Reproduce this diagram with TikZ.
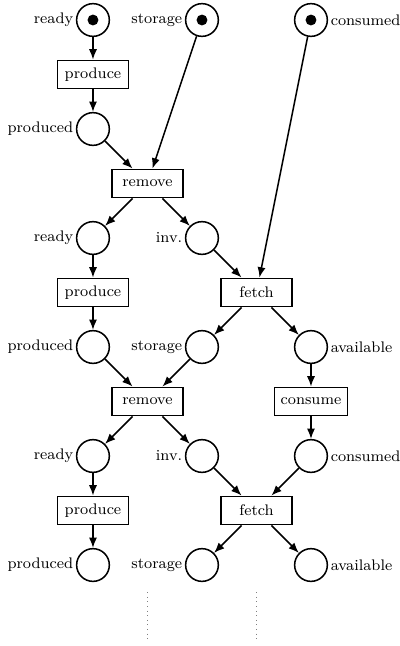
\documentclass[tikz,border=0pt]{standalone}
\usetikzlibrary{arrows.meta}
\begin{document}
\begin{tikzpicture}[>={Latex[length=1.9mm,width=1.5mm]},thick,
every node/.style={font=\footnotesize},
every label/.style={inner sep=1pt},
myplace/.style={circle,draw,minimum size=6mm},
mytrans/.style={rectangle,draw,minimum width=13mm,minimum height=5.2mm},
mytoken/.style={circle,fill,inner sep=0pt,minimum size=2mm}]

\useasboundingbox (-1.706,0.367) rectangle (5.633,-11.486);

\node[myplace,label=left:ready](ra) at (0,0) {};
\node[myplace,label=left:storage](sa) at (2,0) {};
\node[myplace,label=right:consumed](ca) at (4,0) {};
\node[mytoken](ta) at (ra) {};
\node[mytoken](tb) at (sa) {};
\node[mytoken](tc) at (ca) {};

\node[mytrans](pa) at (0,-1) {produce};
\node[myplace,label=left:produced](da) at (0,-2) {};
\node[mytrans](ma) at (1,-3) {remove};
\node[myplace,label=left:ready](rb) at (0,-4) {};
\node[myplace,label=left:inv.](ia) at (2,-4) {};
\node[mytrans](pb) at (0,-5) {produce};
\node[mytrans](fa) at (3,-5) {fetch};
\node[myplace,label=left:produced](db) at (0,-6) {};
\node[myplace,label=left:storage](sb) at (2,-6) {};
\node[myplace,label=right:available](va) at (4,-6) {};
\node[mytrans](mb) at (1,-7) {remove};
\node[mytrans](ka) at (4,-7) {consume};
\node[myplace,label=left:ready](rc) at (0,-8) {};
\node[myplace,label=left:inv.](ib) at (2,-8) {};
\node[myplace,label=right:consumed](cb) at (4,-8) {};
\node[mytrans](pc) at (0,-9) {produce};
\node[mytrans](fb) at (3,-9) {fetch};
\node[myplace,label=left:produced](dc) at (0,-10) {};
\node[myplace,label=left:storage](sc) at (2,-10) {};
\node[myplace,label=right:available](vb) at (4,-10) {};

\draw[->] (ra) to (pa);
\draw[->] (pa) to (da);
\draw[->] (da) to (ma);
\draw[->] (sa) to (ma);
\draw[->] (ca) to (fa);
\draw[->] (ma) to (rb);
\draw[->] (ma) to (ia);
\draw[->] (rb) to (pb);
\draw[->] (pb) to (db);
\draw[->] (ia) to (fa);
\draw[->] (fa) to (sb);
\draw[->] (fa) to (va);
\draw[->] (db) to (mb);
\draw[->] (sb) to (mb);
\draw[->] (va) to (ka);
\draw[->] (ka) to (cb);
\draw[->] (mb) to (rc);
\draw[->] (mb) to (ib);
\draw[->] (rc) to (pc);
\draw[->] (pc) to (dc);
\draw[->] (ib) to (fb);
\draw[->] (cb) to (fb);
\draw[->] (fb) to (sc);
\draw[->] (fb) to (vb);

\coordinate (ua) at (1,-10.5);
\coordinate (ub) at (1,-11.4);
\coordinate (uc) at (3,-10.5);
\coordinate (ud) at (3,-11.4);
\draw[thin,dotted,gray] (ua) -- (ub);
\draw[thin,dotted,gray] (uc) -- (ud);

\end{tikzpicture}
\end{document}
